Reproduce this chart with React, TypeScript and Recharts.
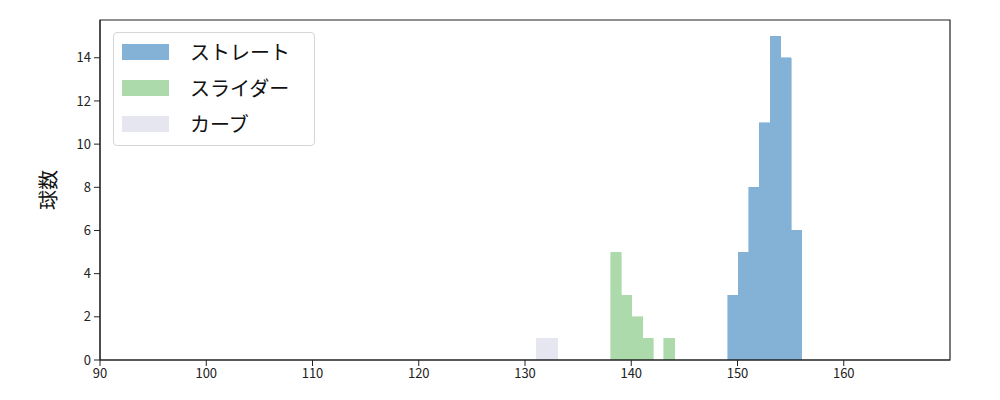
import React from "react";
import {
  ComposedChart,
  XAxis,
  YAxis,
  ReferenceArea,
  Line
} from "recharts";

// bin edges and counts
const straightEdges = [149.07, 150.07, 151.07, 152.06, 153.06, 154.06, 155.05, 156.05];
const straightCounts = [3, 5, 8, 11, 15, 14, 6];

const sliderEdges = [138.05, 139.06, 140.06, 141.07, 142.07, 143.08, 144.08];
const sliderCounts = [5, 3, 2, 1, 0, 1];

const curveEdges = [131.08, 133.07];
const curveCounts = [1];

const xTicks = [90, 100, 110, 120, 130, 140, 150, 160];
const yTicks = [0, 2, 4, 6, 8, 10, 12, 14];

const series = [
  { name: "ストレート", edges: straightEdges, counts: straightCounts, color: "#84b2d7" },
  { name: "スライダー", edges: sliderEdges, counts: sliderCounts, color: "#acdaab" },
  { name: "カーブ", edges: curveEdges, counts: curveCounts, color: "#e6e6f1" }
];

const FONT = "'Noto Sans CJK JP', 'DejaVu Sans', sans-serif";
const AXIS = "#222222";

function LegendBox() {
  return (
    <div
      style={{
        position: "absolute",
        left: 113,
        top: 32,
        width: 202,
        height: 114,
        border: "1px solid #d6d6d6",
        borderRadius: 4,
        background: "rgba(255,255,255,0.8)",
        boxSizing: "border-box",
        fontFamily: FONT,
        fontSize: 20,
        color: "#111",
        paddingTop: 1
      }}
    >
      {series.map((s) => (
        <div key={s.name} style={{ display: "flex", alignItems: "center", height: 36 }}>
          <div style={{ width: 47, height: 16, background: s.color, marginLeft: 8, marginRight: 21 }} />
          <span style={{ lineHeight: "36px" }}>{s.name}</span>
        </div>
      ))}
    </div>
  );
}

export default function App() {
  return (
    <div style={{ position: "absolute", left: 0, top: 0, width: 1000, height: 400, background: "#fff" }}>
      <ComposedChart
        width={1000}
        height={400}
        data={[{ x: 90 }, { x: 170 }]}
        margin={{ top: 20, right: 50, bottom: 0, left: 0 }}
      >
        <XAxis
          dataKey="x"
          type="number"
          domain={[90, 170]}
          ticks={xTicks}
          allowDataOverflow
          height={40}
          stroke={AXIS}
          tickSize={6}
          tickMargin={3}
          tick={{ fill: "#222", fontSize: 13, fontFamily: FONT }}
        />
        <YAxis
          type="number"
          domain={[0, 15.75]}
          ticks={yTicks}
          allowDataOverflow
          width={100}
          stroke={AXIS}
          tickSize={6}
          tickMargin={3}
          tick={{ fill: "#222", fontSize: 13, fontFamily: FONT }}
          label={{
            value: "球数",
            angle: -90,
            position: "insideLeft",
            dx: 44,
            style: { fill: "#111", fontSize: 20, fontFamily: FONT, textAnchor: "middle" }
          }}
        />
        <Line dataKey="x" stroke="none" dot={false} isAnimationActive={false} legendType="none" />
        {series.map((s) =>
          s.counts.map((c, i) =>
            c > 0 ? (
              <ReferenceArea
                key={s.name + i}
                x1={s.edges[i]}
                x2={s.edges[i + 1]}
                y1={0}
                y2={c}
                fill={s.color}
                fillOpacity={1}
                stroke={s.color}
                strokeWidth={0.6}
                shapeRendering="crispEdges"
                ifOverflow="hidden"
              />
            ) : null
          )
        )}
        <ReferenceArea
          x1={90}
          x2={170}
          y1={0}
          y2={15.75}
          fill="none"
          stroke={AXIS}
          strokeWidth={1.2}
          ifOverflow="visible"
        />
      </ComposedChart>
      <LegendBox />
    </div>
  );
}
